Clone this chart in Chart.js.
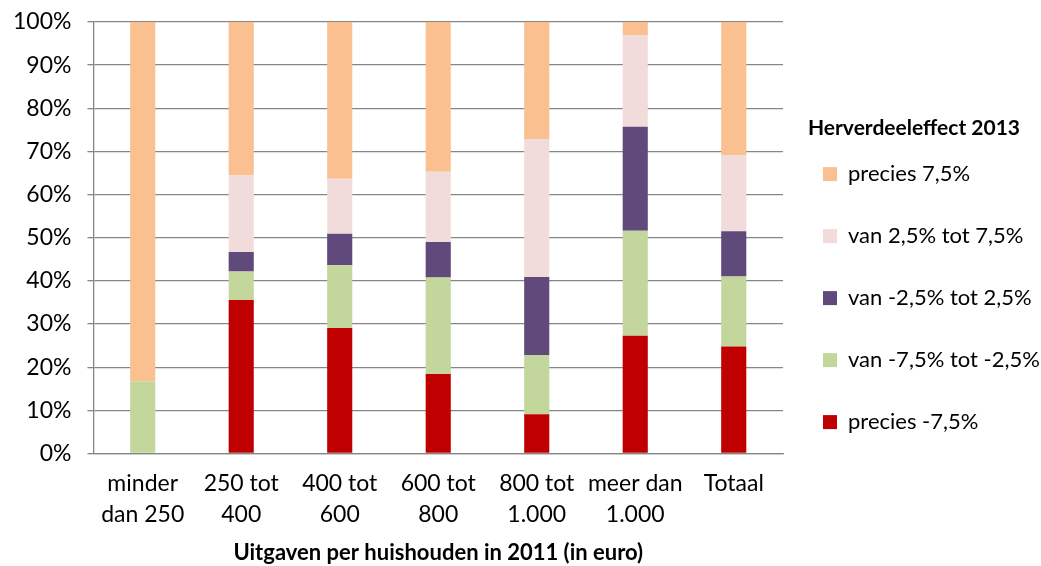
<!DOCTYPE html>
<html>
<head>
<meta charset="utf-8">
<script src="https://cdn.jsdelivr.net/npm/chart.js@4"></script>
<style>
  html, body { margin:0; padding:0; background:#fff; }
</style>
</head>
<body>
<canvas id="chart" width="1041" height="566"></canvas>
<script>
// categories (x axis)
const categories = [
  ["minder","dan 250"],
  ["250 tot","400"],
  ["400 tot","600"],
  ["600 tot","800"],
  ["800 tot","1.000"],
  ["meer dan","1.000"],
  ["Totaal"]
];

// shares per group, in percent (bottom to top of the stack)
const preciesMin75 = [0, 35.6, 29.1, 18.4, 9.1, 27.3, 24.8];
const vanMin75totMin25 = [16.7, 6.6, 14.5, 22.4, 13.7, 24.3, 16.2];
const vanMin25tot25 = [0, 4.5, 7.3, 8.2, 18.1, 24.1, 10.5];
const van25tot75 = [0, 17.8, 12.8, 16.3, 32.0, 21.3, 17.6];
const precies75 = [83.3, 35.5, 36.3, 34.7, 27.1, 3.0, 30.9];

const font = "Lato, 'Open Sans', sans-serif";

new Chart(document.getElementById("chart"), {
  type: "bar",
  data: {
    labels: categories,
    datasets: [
      { label: "precies -7,5%", data: preciesMin75, backgroundColor: "#C00000" },
      { label: "van -7,5% tot -2,5%", data: vanMin75totMin25, backgroundColor: "#C3D69B" },
      { label: "van -2,5% tot 2,5%", data: vanMin25tot25, backgroundColor: "#604A7B" },
      { label: "van 2,5% tot 7,5%", data: van25tot75, backgroundColor: "#F2DCDB" },
      { label: "precies 7,5%", data: precies75, backgroundColor: "#FAC090" }
    ]
  },
  options: {
    responsive: false,
    animation: false,
    barPercentage: 0.255,
    categoryPercentage: 1,
    layout: { padding: { top: 5, left: -3, right: -4, bottom: 0 } },
    plugins: {
      tooltip: { enabled: false },
      legend: {
        position: "right",
        reverse: true,
        align: "center",
        title: {
          display: true,
          text: "Herverdeeleffect 2013",
          position: "center",
          color: "#000",
          font: { family: font, size: 21, weight: "bold" },
          padding: { top: 20, bottom: -20 }
        },
        labels: {
          color: "#000",
          font: { family: font, size: 22 },
          boxWidth: 14,
          boxHeight: 14,
          padding: 40
        }
      }
    },
    scales: {
      x: {
        stacked: true,
        grid: { display: false, drawTicks: false },
        border: { color: "#868686", width: 1.3 },
        ticks: {
          color: "#000",
          font: { family: font, size: 23, lineHeight: 1.35 },
          maxRotation: 0,
          autoSkip: false,
          padding: 15
        },
        title: {
          display: true,
          text: "Uitgaven per huishouden in 2011 (in euro)",
          color: "#000",
          font: { family: font, size: 22, weight: "bold" },
          padding: { top: -6, bottom: 0 }
        }
      },
      y: {
        stacked: true,
        min: 0,
        max: 100,
        grid: { color: "#868686", lineWidth: 1.3, tickLength: 6 },
        border: { color: "#868686", width: 1.3 },
        ticks: {
          stepSize: 10,
          color: "#000",
          font: { family: font, size: 23 },
          padding: 16,
          callback: v => v + "%"
        },
        // keep the label gap but not the extra top space it adds
        afterFit: scale => {
          scale.paddingTop = 22;
          scale.paddingBottom = 14;
        }
      }
    }
  }
});
</script>
</body>
</html>
